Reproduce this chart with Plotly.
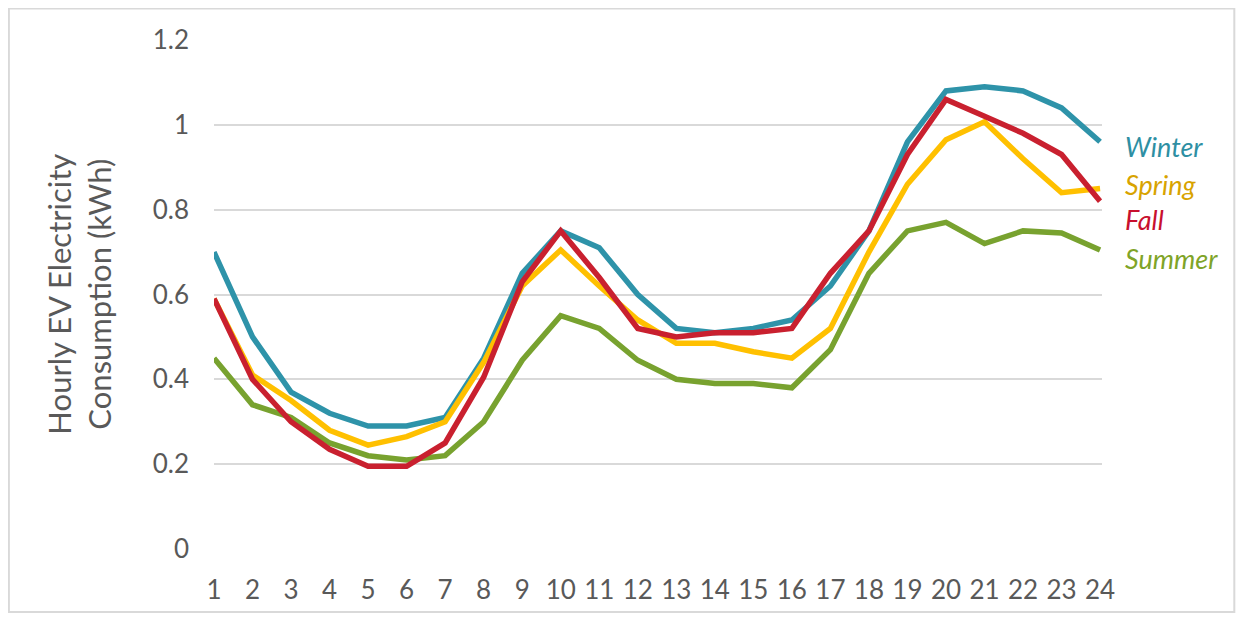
import plotly.graph_objects as go

hours = list(range(1, 25))
hour_labels = [str(h) for h in hours]

winter = [0.70, 0.50, 0.37, 0.32, 0.29, 0.29, 0.31, 0.45, 0.65, 0.75, 0.71, 0.60,
          0.52, 0.51, 0.52, 0.54, 0.62, 0.75, 0.96, 1.08, 1.09, 1.08, 1.04, 0.96]
spring = [0.59, 0.41, 0.35, 0.28, 0.245, 0.265, 0.30, 0.44, 0.62, 0.705, 0.62, 0.54,
          0.485, 0.485, 0.465, 0.45, 0.52, 0.70, 0.86, 0.965, 1.007, 0.92, 0.84, 0.85]
summer = [0.45, 0.34, 0.31, 0.25, 0.22, 0.21, 0.22, 0.30, 0.445, 0.55, 0.52, 0.445,
          0.40, 0.39, 0.39, 0.38, 0.47, 0.65, 0.75, 0.77, 0.72, 0.75, 0.745, 0.705]
fall = [0.59, 0.40, 0.30, 0.235, 0.195, 0.195, 0.25, 0.405, 0.63, 0.75, 0.64, 0.52,
        0.50, 0.51, 0.51, 0.52, 0.65, 0.75, 0.93, 1.06, 1.02, 0.98, 0.93, 0.82]

y_ticks = [0, 0.2, 0.4, 0.6, 0.8, 1.0, 1.2]
y_tick_labels = ["0", "0.2", "0.4", "0.6", "0.8", "1", "1.2"]

series = [
    ("Winter", winter, "#2E93A9", "#2E8FA3", 0.948),
    ("Spring", spring, "#FFC000", "#D8A300", 0.860),
    ("Summer", summer, "#78A22F", "#7FA428", 0.686),
    ("Fall", fall, "#C9202F", "#C8102E", 0.778),
]

FONT = "Lato, 'Open Sans', sans-serif"
fig = go.Figure()
for name, vals, color, tcolor, ly in series:
    fig.add_trace(go.Scatter(x=hours, y=vals, mode="lines", name=name,
                             line=dict(color=color, width=5.5), showlegend=False))

label_order = ["Winter", "Spring", "Fall", "Summer"]
smap = {s[0]: s for s in series}
for nm in label_order:
    name, vals, color, tcolor, ly = smap[nm]
    fig.add_annotation(x=1.0236, xref="paper", y=ly, yref="y", text=f"<i>{name}</i>",
                       showarrow=False, xanchor="left", yanchor="middle",
                       font=dict(family=FONT, size=27, color=tcolor))

fig.add_annotation(x=-0.1530, xref="paper", y=0.5, yref="paper",
                   text="Hourly EV Electricity<br>Consumption (kWh)",
                   textangle=-90, showarrow=False, xanchor="center", yanchor="middle",
                   font=dict(family=FONT, size=31, color="#595959"))

fig.add_shape(type="rect", xref="paper", yref="paper",
              x0=-0.2310, x1=1.1490, y0=-0.1238, y1=1.0619,
              line=dict(color="#D9D9D9", width=2), fillcolor="rgba(0,0,0,0)", layer="below")

fig.update_layout(
    width=1228, height=611,
    margin=dict(l=206, r=134, t=32, b=70),
    paper_bgcolor="white", plot_bgcolor="white",
    font=dict(family=FONT, color="#595959"),
    xaxis=dict(range=[1, 24.05], tickmode="array", tickvals=hours, ticktext=hour_labels,
               showgrid=False, zeroline=False, showline=False, ticks="",
               tickfont=dict(size=26, color="#595959"), ticklabelstandoff=23),
    yaxis=dict(range=[0, 1.2], tickmode="array", tickvals=y_ticks, ticktext=y_tick_labels,
               showgrid=True, gridcolor="#D9D9D9", gridwidth=2, zeroline=False,
               showline=False, ticks="", tickfont=dict(size=26, color="#595959"),
               ticklabelstandoff=24),
)

fig.write_html("out.html")
